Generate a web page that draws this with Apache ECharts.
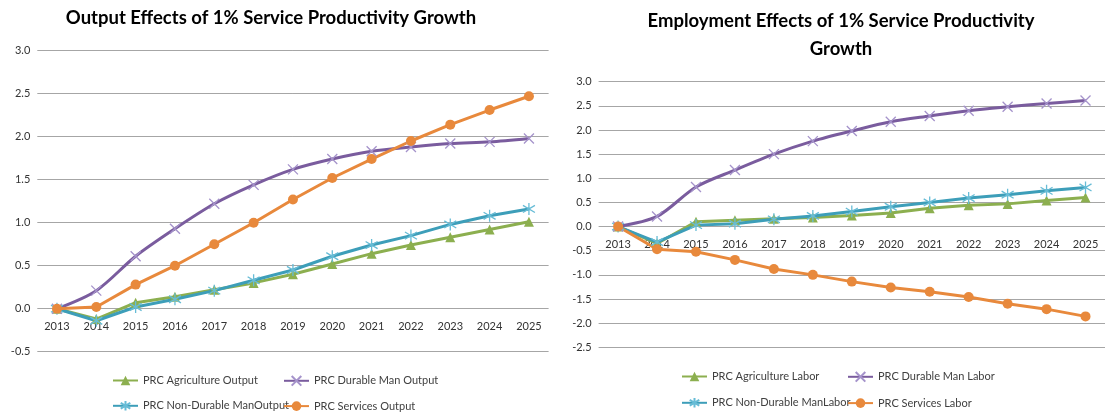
<!DOCTYPE html>
<html>
<head>
<meta charset="utf-8">
<script src="https://cdn.jsdelivr.net/npm/echarts@6/dist/echarts.min.js"></script>
<style>
	html,body{margin:0;padding:0;background:#fff;}
	#charts{width:1105px;height:418px;}
</style>
</head>
<body>
<div id="charts"></div>
<script>
//年份
var years = ['2013','2014','2015','2016','2017','2018','2019','2020','2021','2022','2023','2024','2025'];
//产出
var outputNames = ['PRC Agriculture Output','PRC Durable Man Output','PRC Non-Durable ManOutput','PRC Services Output'];
var agriOutput = [0,-0.12,0.07,0.14,0.22,0.30,0.40,0.52,0.64,0.74,0.83,0.92,1.01];
var durableOutput = [0,0.21,0.61,0.93,1.22,1.44,1.62,1.74,1.83,1.88,1.92,1.94,1.98];
var nonDurableOutput = [0,-0.14,0.02,0.11,0.21,0.33,0.45,0.61,0.74,0.85,0.98,1.08,1.16];
var servicesOutput = [0,0.02,0.28,0.50,0.75,1.00,1.27,1.52,1.74,1.95,2.14,2.31,2.47];
//就业
var laborNames = ['PRC Agriculture Labor','PRC Durable Man Labor','PRC Non-Durable ManLabor','PRC Services Labor'];
var agriLabor = [0,-0.35,0.10,0.13,0.16,0.19,0.23,0.28,0.38,0.44,0.47,0.54,0.60];
var durableLabor = [0,0.21,0.82,1.17,1.50,1.77,1.98,2.17,2.29,2.40,2.48,2.55,2.61];
var nonDurableLabor = [0,-0.32,0.03,0.06,0.15,0.22,0.31,0.41,0.50,0.59,0.66,0.74,0.81];
var servicesLabor = [0,-0.47,-0.52,-0.69,-0.88,-1.00,-1.14,-1.26,-1.35,-1.46,-1.60,-1.71,-1.86];
//标题
var titles = ['Output Effects of 1% Service Productivity Growth','Employment Effects of 1% Service Productivity\nGrowth'];

var fontName = 'Lato';
var lineColors = ['#8CAF4F','#7A5C9E','#3D9EB9','#E8893C'];
var markColors = ['#8CAF4F','#A593CB','#67BCD6','#E8893C'];
var symbols = ['triangle','path://M0,0L10,10M10,0L0,10','path://M5,0L5,10M0.7,2L9.3,8M0.7,8L9.3,2','circle'];
var symbolSizes = [10,10,12,10];

function makeSeries(name,data,k,idx){
	return {
		name:name,
		type:'line',
		xAxisIndex:idx,
		yAxisIndex:idx,
		data:data,
		smooth:k==1 ? 0.3 : false,
		symbol:symbols[k],
		symbolSize:symbolSizes[k],
		showAllSymbol:true,
		lineStyle:{color:lineColors[k],width:3},
		itemStyle:{color:markColors[k],borderColor:markColors[k],borderWidth:k==1||k==2 ? 1.3 : 0},
		emphasis:{disabled:true},
		animation:false
	};
}

//图例，两列竖排
function makeLegend(data,left,top,gap){
	return {
		data:data,
		orient:'vertical',
		left:left,
		top:top,
		height:60,
		padding:0,
		itemGap:gap,
		itemWidth:25,
		itemHeight:12,
		textStyle:{fontFamily:fontName,fontSize:11,color:'#404040'}
	};
}

var axisLabelStyle = {fontFamily:fontName,fontSize:11,color:'#333'};

var charts = echarts.init(document.getElementById('charts'));
var option = {
	backgroundColor:'#fff',
	animation:false,
	title:[{
		text:titles[0],
		left:266,
		top:4,
		textAlign:'center',
		textStyle:{fontFamily:fontName,fontWeight:'bold',fontSize:18.5,color:'#000'}
	},{
		text:titles[1],
		left:836,
		top:2,
		textAlign:'center',
		textStyle:{fontFamily:fontName,fontWeight:'bold',fontSize:18.5,color:'#000',lineHeight:28}
	}],
	legend:[
		makeLegend([outputNames[0],outputNames[2]],112,375,14),
		makeLegend([outputNames[1],outputNames[3]],283,375,14),
		makeLegend([laborNames[0],laborNames[2]],681,371,15),
		makeLegend([laborNames[1],laborNames[3]],847,371,15)
	],
	grid:[
		{left:37.3,top:50.7,width:511.3,height:301},
		{left:598.6,top:81.7,width:512.9,height:265.6}
	],
	//横轴放在0刻度线上
	xAxis:[0,1].map(function(i){
		return {
			type:'category',
			gridIndex:i,
			data:years,
			offset:i==0 ? -43 : -120.7,
			axisLine:{onZero:false,show:false},
			axisTick:{show:false},
			axisLabel:Object.assign({margin:12,interval:0},axisLabelStyle)
		};
	}),
	yAxis:[{
		type:'value',
		gridIndex:0,
		min:-0.5,
		max:3,
		interval:0.5,
		axisLine:{show:false},
		axisTick:{show:false},
		splitLine:{lineStyle:{color:'#A6A6A6'}},
		axisLabel:Object.assign({margin:7,formatter:function(v){return v.toFixed(1);}},axisLabelStyle)
	},{
		type:'value',
		gridIndex:1,
		min:-2.5,
		max:3,
		interval:0.5,
		axisLine:{show:false},
		axisTick:{show:false},
		splitLine:{lineStyle:{color:'#A6A6A6'}},
		axisLabel:Object.assign({margin:7,formatter:function(v){return v.toFixed(1);}},axisLabelStyle)
	}],
	series:[
		makeSeries(outputNames[0],agriOutput,0,0),
		makeSeries(outputNames[1],durableOutput,1,0),
		makeSeries(outputNames[2],nonDurableOutput,2,0),
		makeSeries(outputNames[3],servicesOutput,3,0),
		makeSeries(laborNames[0],agriLabor,0,1),
		makeSeries(laborNames[1],durableLabor,1,1),
		makeSeries(laborNames[2],nonDurableLabor,2,1),
		makeSeries(laborNames[3],servicesLabor,3,1)
	]
};
charts.setOption(option);
</script>
</body>
</html>
